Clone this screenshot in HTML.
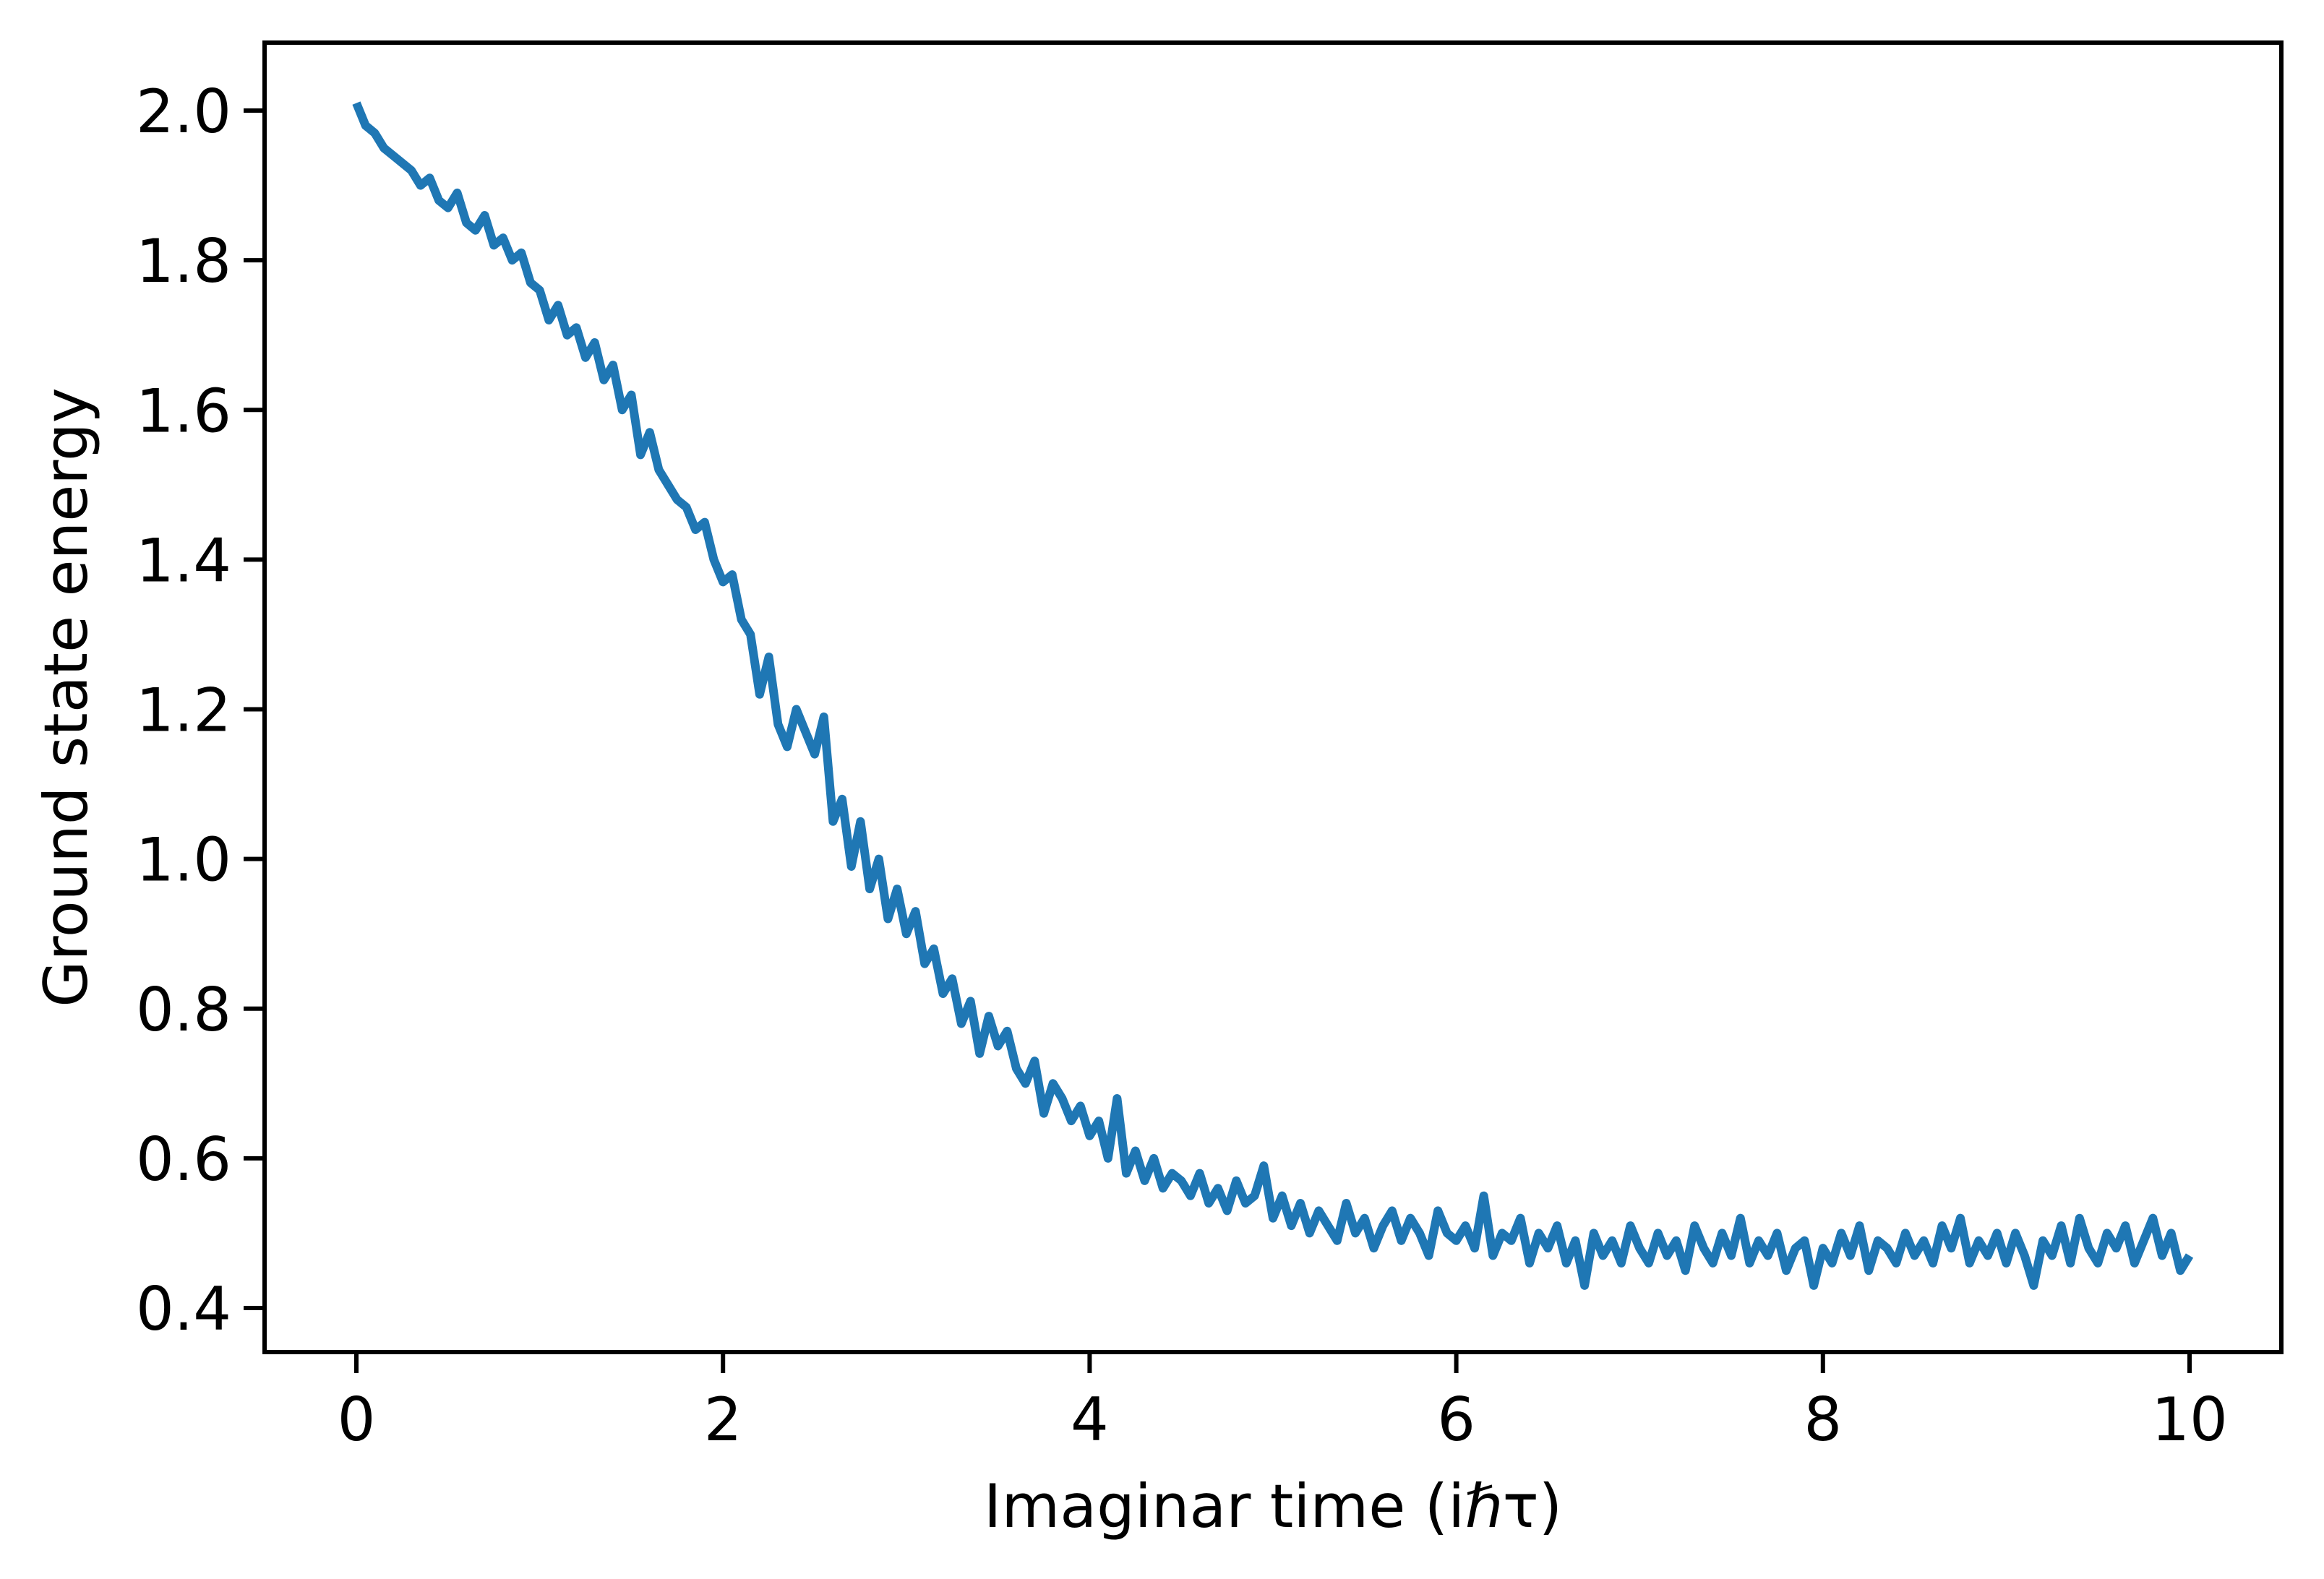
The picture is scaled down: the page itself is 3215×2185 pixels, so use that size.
<!DOCTYPE html>
<html><head><meta charset="utf-8"><style>html,body{margin:0;padding:0;background:#fff}svg{display:block}text{font-family:"DejaVu Sans","Liberation Sans",sans-serif;fill:#000}</style></head>
<body>
<svg id="chart" width="3215" height="2185" viewBox="0 0 3215 2185" xmlns="http://www.w3.org/2000/svg">
<rect width="3215" height="2185" fill="#fff"/>
<g id="plot"></g>
<rect x="366" y="59" width="2790" height="1812" fill="none" stroke="#000" stroke-width="6"/>
<text x="1761" y="2113" font-size="83" text-anchor="middle">Imaginar time (iℏτ)</text>
<text transform="translate(120,965) rotate(-90)" font-size="83" text-anchor="middle">Ground state energy</text>
</svg>
<script>
const xTicks = [0, 2, 4, 6, 8, 10];
const xTickLabels = ["0", "2", "4", "6", "8", "10"];
const yTicks = [0.4, 0.6, 0.8, 1.0, 1.2, 1.4, 1.6, 1.8, 2.0];
const yTickLabels = ["0.4", "0.6", "0.8", "1.0", "1.2", "1.4", "1.6", "1.8", "2.0"];
const tStep = 0.05;
const energy = [
2.01,1.98,1.97,1.95,1.94,1.93,1.92,1.90,1.91,1.88,
1.87,1.89,1.85,1.84,1.86,1.82,1.83,1.80,1.81,1.77,
1.76,1.72,1.74,1.70,1.71,1.67,1.69,1.64,1.66,1.60,
1.62,1.54,1.57,1.52,1.50,1.48,1.47,1.44,1.45,1.40,
1.37,1.38,1.32,1.30,1.22,1.27,1.18,1.15,1.20,1.17,
1.14,1.19,1.05,1.08,0.99,1.05,0.96,1.00,0.92,0.96,
0.90,0.93,0.86,0.88,0.82,0.84,0.78,0.81,0.74,0.79,
0.75,0.77,0.72,0.70,0.73,0.66,0.70,0.68,0.65,0.67,
0.63,0.65,0.60,0.68,0.58,0.61,0.57,0.60,0.56,0.58,
0.57,0.55,0.58,0.54,0.56,0.53,0.57,0.54,0.55,0.59,
0.52,0.55,0.51,0.54,0.50,0.53,0.51,0.49,0.54,0.50,
0.52,0.48,0.51,0.53,0.49,0.52,0.50,0.47,0.53,0.50,
0.49,0.51,0.48,0.55,0.47,0.50,0.49,0.52,0.46,0.50,
0.48,0.51,0.46,0.49,0.43,0.50,0.47,0.49,0.46,0.51,
0.48,0.46,0.50,0.47,0.49,0.45,0.51,0.48,0.46,0.50,
0.47,0.52,0.46,0.49,0.47,0.50,0.45,0.48,0.49,0.43,
0.48,0.46,0.50,0.47,0.51,0.45,0.49,0.48,0.46,0.50,
0.47,0.49,0.46,0.51,0.48,0.52,0.46,0.49,0.47,0.50,
0.46,0.50,0.47,0.43,0.49,0.47,0.51,0.46,0.52,0.48,
0.46,0.50,0.48,0.51,0.46,0.49,0.52,0.47,0.50,0.45,
0.47];
const NS = "http://www.w3.org/2000/svg";
const X = v => 493 + (v - 0) * (3029 - 493) / 10;
const Y = v => 1810 - (v - 0.4) * (1810 - 153) / 1.6;
const g = document.getElementById('plot');
function mk(tag, attrs) { const e = document.createElementNS(NS, tag); for (const k in attrs) e.setAttribute(k, attrs[k]); g.appendChild(e); return e; }
xTicks.forEach((v, i) => {
  const l = mk('line', {x1: X(v), x2: X(v), y1: 1871, y2: 1900, stroke: '#000', 'stroke-width': 6});
  
  
  const t = mk('text', {x: X(v), y: 1993, 'font-size': 83, 'text-anchor': 'middle'});
  t.textContent = xTickLabels[i];
  
  
});
yTicks.forEach((v, i) => {
  const l = mk('line', {x1: 337, x2: 366, y1: Y(v), y2: Y(v), stroke: '#000', 'stroke-width': 6});
  
  
  const t = mk('text', {x: 320, y: Y(v) + 30, 'font-size': 83, 'text-anchor': 'end'});
  t.textContent = yTickLabels[i];
  
  
});
const pts = energy.map((e, i) => X(i * tStep).toFixed(1) + ',' + Y(e).toFixed(1)).join(' ');
const line = mk('polyline', {points: pts, fill: 'none', stroke: '#1f77b4', 'stroke-width': 12, 'stroke-linejoin': 'round'});


</script>
</body></html>
